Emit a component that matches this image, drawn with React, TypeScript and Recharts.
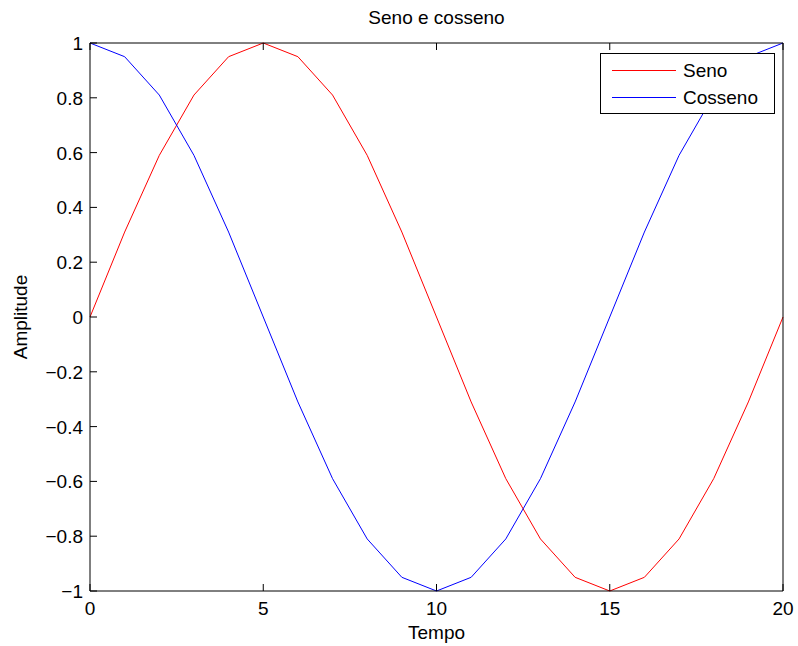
import React from 'react';
import { LineChart, Line, XAxis, YAxis } from 'recharts';

// amostras 0..20
const tempo = [0, 1, 2, 3, 4, 5, 6, 7, 8, 9, 10, 11, 12, 13, 14, 15, 16, 17, 18, 19, 20];
const seno = [0, 0.31, 0.59, 0.81, 0.95, 1, 0.95, 0.81, 0.59, 0.31, 0, -0.31, -0.59, -0.81, -0.95, -1, -0.95, -0.81, -0.59, -0.31, 0];
const cosseno = [1, 0.95, 0.81, 0.59, 0.31, 0, -0.31, -0.59, -0.81, -0.95, -1, -0.95, -0.81, -0.59, -0.31, 0, 0.31, 0.59, 0.81, 0.95, 1];

const xTicks = [0, 5, 10, 15, 20];
const yTicks = [-1, -0.8, -0.6, -0.4, -0.2, 0, 0.2, 0.4, 0.6, 0.8, 1];

const series = [
  { key: 'seno', name: 'Seno', color: '#ff0000' },
  { key: 'cosseno', name: 'Cosseno', color: '#0000ff' },
];

const data = tempo.map((t, i) => ({ t, seno: seno[i], cosseno: cosseno[i] }));

const FONT = '"Liberation Sans", Arial, Helvetica, sans-serif';
const TICK = 7;

const fmt = (v: number) => {
  const s = String(Math.round(v * 10) / 10);
  return s.startsWith('-') ? '\u2212' + s.slice(1) : s;
};

const BottomTick = (props: any) => {
  const { x, y, payload } = props;
  return (
    <g>
      <line x1={x} y1={y} x2={x} y2={y - TICK} stroke="#000" />
      <text x={x} y={y + 24} textAnchor="middle" fontSize={19} fontFamily={FONT} fill="#000">
        {fmt(payload.value)}
      </text>
    </g>
  );
};

const LeftTick = (props: any) => {
  const { x, y, payload } = props;
  return (
    <g>
      <line x1={x} y1={y} x2={x + TICK} y2={y} stroke="#000" />
      <text x={x - 7} y={y + 7} textAnchor="end" fontSize={19} fontFamily={FONT} fill="#000">
        {fmt(payload.value)}
      </text>
    </g>
  );
};

const TopTick = (props: any) => {
  const { x, y } = props;
  return <line x1={x} y1={y} x2={x} y2={y + TICK} stroke="#000" />;
};

const RightTick = (props: any) => {
  const { x, y } = props;
  return <line x1={x} y1={y} x2={x - TICK} y2={y} stroke="#000" />;
};

const LegendBox = () => (
  <div
    style={{
      position: 'absolute',
      left: 600,
      top: 53,
      width: 175,
      height: 61,
      border: '1px solid #000',
      background: '#fff',
      fontFamily: FONT,
      fontSize: 19,
      boxSizing: 'border-box',
    }}
  >
    {series.map((it, i) => (
      <div key={it.key} style={{ display: 'flex', alignItems: 'center', height: 27, marginTop: i === 0 ? 3 : 0 }}>
        <div style={{ width: 64, height: 1, background: it.color, marginLeft: 11, marginRight: 7 }} />
        <span>{it.name}</span>
      </div>
    ))}
  </div>
);

export default function App() {
  return (
    <div style={{ position: 'absolute', left: 0, top: 0, width: 798, height: 646, background: '#fff' }}>
      <div
        style={{
          position: 'absolute',
          left: 90,
          width: 693,
          top: 7,
          textAlign: 'center',
          fontFamily: FONT,
          fontSize: 19,
        }}
      >
        Seno e cosseno
      </div>
      <LineChart width={798} height={646} data={data} margin={{ top: 42, right: 14, left: 0, bottom: 0 }}>
        <XAxis
          xAxisId="b"
          dataKey="t"
          type="number"
          domain={[0, 20]}
          ticks={xTicks}
          interval={0}
          height={55}
          tickSize={0}
          tickMargin={0}
          tickLine={false}
          axisLine={{ stroke: '#000' }}
          tick={<BottomTick />}
          label={(p: any) => {
            const vb = p.viewBox;
            return (
              <text x={vb.x + vb.width / 2} y={vb.y + 48} textAnchor="middle" fontSize={19} fontFamily={FONT} fill="#000">
                Tempo
              </text>
            );
          }}
        />
        <XAxis
          xAxisId="t"
          orientation="top"
          dataKey="t"
          type="number"
          domain={[0, 20]}
          ticks={xTicks}
          interval={0}
          height={1}
          tickSize={0}
          tickMargin={0}
          tickLine={false}
          axisLine={{ stroke: '#000' }}
          tick={<TopTick />}
        />
        <YAxis
          yAxisId="l"
          type="number"
          domain={[-1, 1]}
          ticks={yTicks}
          interval={0}
          width={90}
          tickSize={0}
          tickMargin={0}
          tickLine={false}
          axisLine={{ stroke: '#000' }}
          tick={<LeftTick />}
          label={(p: any) => {
            const vb = p.viewBox;
            const cx = 27;
            const cy = vb.y + vb.height / 2;
            return (
              <text x={cx} y={cy} transform={`rotate(-90 ${cx} ${cy})`} textAnchor="middle" fontSize={19} fontFamily={FONT} fill="#000">
                Amplitude
              </text>
            );
          }}
        />
        <YAxis
          yAxisId="r"
          orientation="right"
          type="number"
          domain={[-1, 1]}
          ticks={yTicks}
          interval={0}
          width={1}
          tickSize={0}
          tickMargin={0}
          tickLine={false}
          axisLine={{ stroke: '#000' }}
          tick={<RightTick />}
        />
        {series.map((s) => (
          <Line
            key={s.key}
            xAxisId="b"
            yAxisId="l"
            dataKey={s.key}
            name={s.name}
            stroke={s.color}
            strokeWidth={1}
            dot={false}
            type="linear"
            isAnimationActive={false}
          />
        ))}
      </LineChart>
      <LegendBox />
    </div>
  );
}
